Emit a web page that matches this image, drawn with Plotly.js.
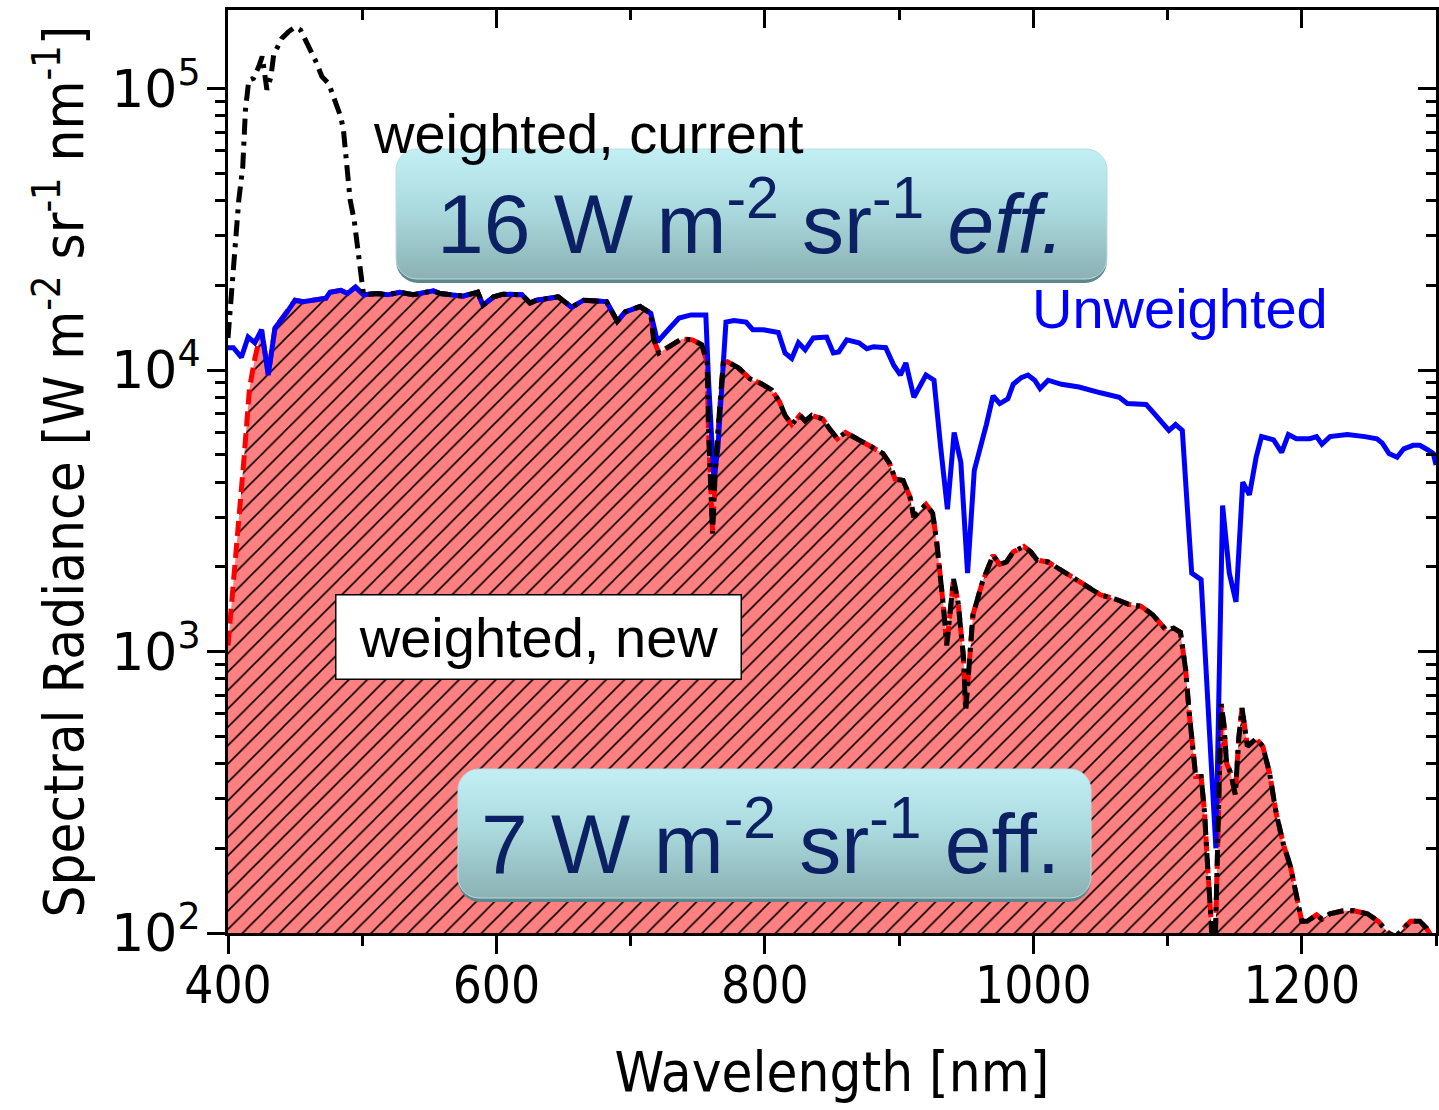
<!DOCTYPE html>
<html>
<head>
<meta charset="utf-8">
<script src="https://cdn.plot.ly/plotly-3.0.1.min.js"></script>
<style>html,body{margin:0;padding:0;background:#fff;}#chart{width:1439px;height:1110px;}</style>
</head>
<body>
<div id="chart"></div>
<script>
// Unweighted spectral radiance (W m^-2 sr^-1 nm^-1) versus wavelength (nm)
const wl_unweighted = [400,404,410,415,420,425,430,435,443,450,
  456,466,473,476,484,489,495,501,511,519,
  528,538,543,553,558,566,575,586,590,598,
  605,619,625,630,646,656,665,682,687,690,
  696,707,715,720,728,736,745,756,758,762,
  765,771,777,786,791,799,810,815,820,825,
  830,836,846,851,855,861,870,876,881,890,
  896,901,905,911,920,926,931,936,941,946,
  951,956,965,970,975,981,985,991,996,1001,
  1005,1011,1021,1034,1050,1064,1070,1078,1084,1089,
  1096,1101,1106,1111,1115,1118,1125,1136,1141,1146,
  1151,1156,1161,1166,1170,1179,1185,1190,1196,1206,
  1211,1215,1221,1234,1247,1256,1260,1265,1271,1276,
  1283,1288,1294,1298,1300];
const rad_unweighted = [12000,12000,11100,13100,12500,13900,9600,14100,15800,17700,
  17500,17700,18000,18900,19200,18700,19700,18500,18700,18500,
  18900,18500,18700,19100,18700,18500,18300,18900,17000,18200,
  18600,18500,17300,17700,18200,16700,17700,17500,15900,14900,
  16100,16800,15900,12600,13900,15300,15700,15700,9200,4100,
  5300,14800,15000,14800,13900,13900,13600,11500,11000,12500,
  11800,13000,13100,11500,11600,12800,12500,11900,12100,12000,
  10400,9600,10600,8000,9600,9200,5300,3200,6000,4700,
  1900,4400,6400,8100,7600,7900,8900,9400,9600,9200,
  8600,9200,8900,8700,8300,8000,7600,7550,7550,7100,
  6500,6100,6400,6100,3100,1900,1800,200,3300,1900,
  1500,4000,3600,4900,5800,5650,5100,5900,5700,5700,
  5800,5450,5800,5900,5800,5700,5500,5050,4900,5250,
  5400,5400,5200,5050,4600];

// Weighted with the new action spectrum
const wl_new = [400,404,408,412,416,420,
  425,430,435,443,450,456,466,473,476,484,
  489,495,501,511,519,528,538,543,553,558,
  566,575,586,590,598,605,619,625,630,646,
  656,665,682,687,690,696,707,715,
  717,721,728,738,746,753,757,758,761,763,
  766,769,772,780,789,797,805,811,815,820,
  826,830,835,843,848,854,860,869,879,888,
  893,897,903,908,911,920,925,928,930.5,933,
  935.5,940.5,944,948,949.6,952,955,962,967.5,970,
  975,980,985,993,998,1003,1011,1026,1037,1050,
  1062,1071,1080,1089,1099,1104.5,1109.6,1112,1113.5,1116,
  1120,1121,1125,1127.5,1130,1132.5,1134.5,1136,1137,1140,
  1142,1144,1147,1150.5,1153,1155.5,1159.5,1166,1171,1176,
  1181,1186.5,1191.5,1195.5,1200,1204,1211,1215,1221,1231,
  1239,1249,1257,1264.5,1270,1275,1281,1288,1293,1298,1300];
const rad_new = [1050,1700,3000,4900,8600,11000,
  13900,9600,14100,15800,17700,17500,17700,18000,18900,19200,
  18700,19700,18500,18700,18500,18900,18500,18700,19100,18700,
  18500,18300,18900,17000,18200,18600,18500,17300,17700,18200,
  16700,17700,17500,15900,14900,16100,16800,15900,
  12900,11500,12100,12900,12800,12300,10600,6100,2630,4300,
  7000,10600,10700,10200,9300,8950,8500,7700,6900,6400,
  6900,6600,6900,6700,6200,5700,6000,5700,5350,5050,
  4650,4100,4050,3550,3000,3330,3100,2450,1930,1450,
  1050,1810,1490,950,615,910,1350,1760,2080,2200,
  2040,2080,2260,2360,2260,2110,2080,1880,1730,1590,
  1530,1470,1450,1350,1190,1210,1170,950,860,615,
  390,360,360,270,168,110,60,130,210,650,
  550,400,370,310,490,630,460,490,460,370,
  265,205,173,142,110,110,116,112,117,120,
  120,117,110,100,97,103,110,110,104,95,90];

// Weighted with the current action spectrum: blue-light peak below 500 nm,
// identical to the new weighting above it
const wl_current_blue = [400,402,404,408,411,413,415.5,419,423,425.5,
  429,432,434,440,445,450,454,460,465,470,
  475,479,484,486,487.5,490,491,494,496,497.5,500];
const rad_current_blue = [13000,17000,24500,40000,52700,84000,107000,108700,120000,130000,
  99000,110000,131500,150700,159000,165600,161500,142600,126200,110200,
  104200,92300,79400,71300,60400,47300,40200,34100,29000,25900,21400];

const xTickVals = [400,600,800,1000,1200];
const yTickVals = [100,1000,10000,100000];
const yTickText = ['10<sup>2</sup>','10<sup>3</sup>','10<sup>4</sup>','10<sup>5</sup>'];

const wl_current = wl_current_blue.concat(wl_new.filter(w => w > 500));
const rad_current = rad_current_blue.concat(rad_new.filter((v, i) => wl_new[i] > 500));

// plot-area geometry in page pixels, used to place boxes and labels
const PL = 228, PR = 1436, PT = 10, PB = 933;
const px = x => (x - PL) / (PR - PL);
const py = y => (PB - y) / (PB - PT);

const COND = '"DejaVu Sans Condensed", "Liberation Sans", Arial, sans-serif';
const SANS = '"Liberation Sans", Arial, sans-serif';

function pill(w, h) {
  const svg = `<svg xmlns='http://www.w3.org/2000/svg' width='${w}' height='${h}' viewBox='0 0 ${w} ${h}'>` +
    `<defs><linearGradient id='g' x1='0' y1='0' x2='0' y2='1'>` +
    `<stop offset='0' stop-color='#c2eff3'/><stop offset='0.45' stop-color='#acdbdf'/>` +
    `<stop offset='1' stop-color='#8bb1b4'/></linearGradient>` +
    `<linearGradient id='s' x1='0' y1='0' x2='0' y2='1'>` +
    `<stop offset='0' stop-color='#8fb5b8'/><stop offset='1' stop-color='#5e868a'/></linearGradient></defs>` +
    `<rect x='1' y='3' width='${w - 2}' height='${h - 4}' rx='22' ry='22' fill='url(#s)'/>` +
    `<rect x='1' y='1' width='${w - 2}' height='${h - 6}' rx='21' ry='21' fill='url(#g)' stroke='#b5dfe3' stroke-width='1'/>` +
    `</svg>`;
  return 'data:image/svg+xml;charset=utf-8,' + encodeURIComponent(svg);
}

function boxImage(x0, y0, x1, y1) {
  return {
    source: pill(x1 - x0, y1 - y0),
    xref: 'paper', yref: 'paper',
    x: px(x0), y: py(y0),
    sizex: (x1 - x0) / (PR - PL), sizey: (y1 - y0) / (PB - PT),
    xanchor: 'left', yanchor: 'top', sizing: 'stretch', layer: 'above'
  };
}

function label(text, x, y, font, extra) {
  return Object.assign({text: text, xref: 'paper', yref: 'paper', x: px(x), y: py(y),
    xanchor: 'center', yanchor: 'middle', showarrow: false, font: font}, extra || {});
}

const traces = [
  {
    x: wl_new, y: rad_new, type: 'scatter', mode: 'lines', name: 'weighted, new',
    line: {color: '#ff0000', width: 5, dash: '15px,7px'},
    fill: 'tozeroy', fillcolor: '#ff8080',
    fillpattern: {shape: '/', fgcolor: '#000000', bgcolor: '#ff8080', size: 13, solidity: 0.12},
    hoverinfo: 'skip'
  },
  {
    x: wl_unweighted, y: rad_unweighted, type: 'scatter', mode: 'lines', name: 'Unweighted',
    line: {color: '#0000ff', width: 5}, hoverinfo: 'skip'
  },
  {
    x: wl_current, y: rad_current, type: 'scatter', mode: 'lines', name: 'weighted, current',
    line: {color: '#000000', width: 5, dash: '16px,7px,4px,7px'}, hoverinfo: 'skip'
  },
  { x: [], y: [], xaxis: 'x2', yaxis: 'y2', type: 'scatter', mode: 'lines', showlegend: false, hoverinfo: 'skip' }
];

const xCommon = {
  range: [400, 1300], tickvals: xTickVals, showgrid: false, zeroline: false,
  showline: true, linecolor: '#000', linewidth: 3, tickwidth: 3, tickcolor: '#000',
  ticklen: 18
};
const yCommon = {
  type: 'log', range: [2, 5.279], tickvals: yTickVals, ticktext: yTickText,
  showgrid: false, zeroline: false,
  showline: true, linecolor: '#000', linewidth: 3, tickwidth: 3, tickcolor: '#000',
  ticklen: 18
};

const layout = {
  width: 1439, height: 1110,
  margin: {l: PL, r: 1439 - PR, t: PT, b: 1110 - PB},
  paper_bgcolor: '#fff', plot_bgcolor: '#fff',
  showlegend: false,
  xaxis: Object.assign({}, xCommon, {
    ticks: 'outside', side: 'bottom', ticklabelstandoff: -12,
    minor: {dtick: 100, ticks: 'outside', ticklen: 10, tickwidth: 3, tickcolor: '#000', showgrid: false},
    tickfont: {family: COND, size: 51, color: '#000'},
    title: {text: 'Wavelength [nm]', font: {family: COND, size: 56, color: '#000'}, standoff: 38}
  }),
  xaxis2: Object.assign({}, xCommon, {
    overlaying: 'x', side: 'top', ticks: 'inside', showticklabels: false,
    minor: {dtick: 100, ticks: 'inside', ticklen: 10, tickwidth: 3, tickcolor: '#000', showgrid: false}
  }),
  yaxis: Object.assign({}, yCommon, {
    ticks: 'outside', side: 'left', ticklabelstandoff: -4,
    minor: {dtick: 'D1', ticks: 'outside', ticklen: 10, tickwidth: 3, tickcolor: '#000', showgrid: false},
    tickfont: {family: '"DejaVu Sans", sans-serif', size: 52, color: '#000'},
    title: {text: 'Spectral Radiance [W m<sup>-2</sup> sr<sup>-1</sup> nm<sup>-1</sup>]',
            font: {family: COND, size: 56, color: '#000'}, standoff: 10}
  }),
  yaxis2: Object.assign({}, yCommon, {
    overlaying: 'y', side: 'right', ticks: 'inside', showticklabels: false,
    minor: {dtick: 'D1', ticks: 'inside', ticklen: 10, tickwidth: 3, tickcolor: '#000', showgrid: false}
  }),
  images: [boxImage(395, 148, 1108, 284), boxImage(457, 768, 1092, 903)],
  annotations: [
    label('weighted, current', 588, 133, {family: SANS, size: 56, color: '#000'}),
    label('Unweighted', 1180, 308, {family: SANS, size: 56, color: '#0000ff'}),
    label('weighted, new', 538, 637, {family: SANS, size: 56, color: '#000'},
      {width: 404, height: 83, bgcolor: '#fff', bordercolor: '#000', borderwidth: 1.5, borderpad: 0}),
    label('16 W m<sup>-2</sup> sr<sup>-1</sup> <i>eff.</i>', 750, 218, {family: SANS, size: 84, color: '#0b2163'}),
    label('7 W m<sup>-2</sup> sr<sup>-1</sup> eff.', 770, 838, {family: SANS, size: 84, color: '#0b2163'})
  ]
};

Plotly.newPlot('chart', traces, layout, {displayModeBar: false, staticPlot: true});
</script>
</body>
</html>
